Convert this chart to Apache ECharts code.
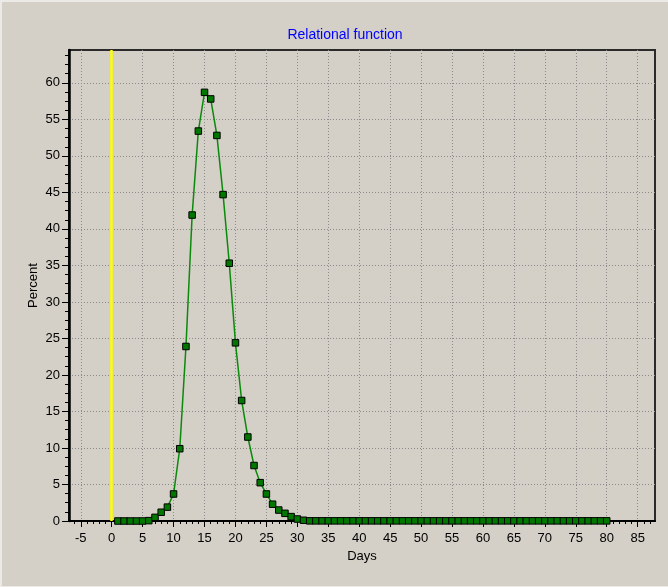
<!DOCTYPE html>
<html>
<head>
<meta charset="utf-8">
<script src="https://cdn.jsdelivr.net/npm/echarts@6/dist/echarts.min.js"></script>
<style>
  html, body { margin: 0; padding: 0; background: #D4D0C8; }
  #wrap { position: relative; width: 668px; height: 587px; }
  #chart { width: 668px; height: 587px; }
  #frame { position: absolute; left: 0; top: 0; width: 668px; height: 587px; box-sizing: border-box;
           border-left: 2px solid #ECEAE6; border-top: 2px solid #ECEAE6; border-bottom: 1px solid #ECEAE6; pointer-events: none; }
</style>
</head>
<body>
<div id="wrap"><div id="chart"></div><div id="frame"></div></div>
<script>
// ---- data ----
const days = [];
for (let d = 1; d <= 80; d++) days.push(d);
const percentHead = [0, 0, 0, 0, 0, 0.05, 0.5, 1.2, 1.9, 3.7,
                     9.9, 23.9, 41.9, 53.4, 58.7, 57.8, 52.8, 44.7, 35.3, 24.4,
                     16.5, 11.5, 7.6, 5.25, 3.7, 2.3, 1.5, 1.05, 0.6, 0.27, 0.1];
const percentTailValue = 0.02; // days 32..80 lie on the axis
const percent = days.map((d, i) => i < percentHead.length ? percentHead[i] : percentTailValue);
const xTickLabels = [-5, 0, 5, 10, 15, 20, 25, 30, 35, 40, 45, 50, 55, 60, 65, 70, 75, 80, 85];
const yTickLabels = [0, 5, 10, 15, 20, 25, 30, 35, 40, 45, 50, 55, 60];
const referenceLineX = [0];
const titleText = 'Relational function';
const xName = 'Days';
const yName = 'Percent';

const chart = echarts.init(document.getElementById('chart'), null, { renderer: 'canvas' });
const font = 'Liberation Sans, Arial, sans-serif';
const gridLine = { show: true, lineStyle: { color: '#8a8a8a', width: 1, type: [1, 2] } };

chart.setOption({
  animation: false,
  backgroundColor: '#D4D0C8',
  title: {
    text: titleText,
    left: 340, top: 23, textAlign: 'center',
    textStyle: { color: '#0000FF', fontSize: 14, fontWeight: 'normal', fontFamily: font }
  },
  grid: {
    left: 69, right: 13, top: 50, bottom: 66,
    show: true, borderColor: '#2a2a2a', borderWidth: 2, backgroundColor: 'transparent'
  },
  xAxis: {
    type: 'value', min: -6.9, max: 87.8, minInterval: 5, maxInterval: 5, splitNumber: 19,
    name: xName, nameLocation: 'middle', nameGap: 29, nameMoveOverlap: false,
    nameTextStyle: { color: '#000', fontSize: 13, fontFamily: font },
    axisLine: { show: true, onZero: false, lineStyle: { color: '#000', width: 2 } },
    axisTick: { show: true, length: 6, customValues: xTickLabels, lineStyle: { color: '#000', width: 1 } },
    minorTick: { show: true, splitNumber: 5, length: 3, lineStyle: { color: '#000', width: 1 } },
    axisLabel: { color: '#000', fontSize: 13, fontFamily: font, margin: 11, customValues: xTickLabels },
    splitLine: gridLine
  },
  yAxis: {
    type: 'value', min: 0, max: 64.5, interval: 5,
    name: yName, nameLocation: 'middle', nameGap: 29, nameMoveOverlap: false,
    nameTextStyle: { color: '#000', fontSize: 13, fontFamily: font },
    axisLine: { show: true, onZero: false, lineStyle: { color: '#000', width: 2.5 } },
    axisTick: { show: true, length: 7, customValues: yTickLabels, lineStyle: { color: '#000', width: 1 } },
    minorTick: { show: true, splitNumber: 4, length: 4, lineStyle: { color: '#000', width: 1 } },
    axisLabel: { color: '#000', fontSize: 13, fontFamily: font, margin: 9, customValues: yTickLabels },
    splitLine: gridLine
  },
  series: [{
    type: 'line',
    data: days.map((d, i) => [d, percent[i]]),
    clip: false,
    symbol: 'rect', symbolSize: 6.5,
    itemStyle: { color: '#007800', borderColor: '#000', borderWidth: 1 },
    lineStyle: { color: '#0a8a0a', width: 1.5 },
    z: 5,
    markLine: {
      silent: true, symbol: ['none', 'none'], label: { show: false },
      lineStyle: { color: '#FFFF00', width: 2.5, type: 'solid' },
      emphasis: { disabled: true },
      data: referenceLineX.map(v => ({ xAxis: v }))
    }
  }]
});
</script>
</body>
</html>
